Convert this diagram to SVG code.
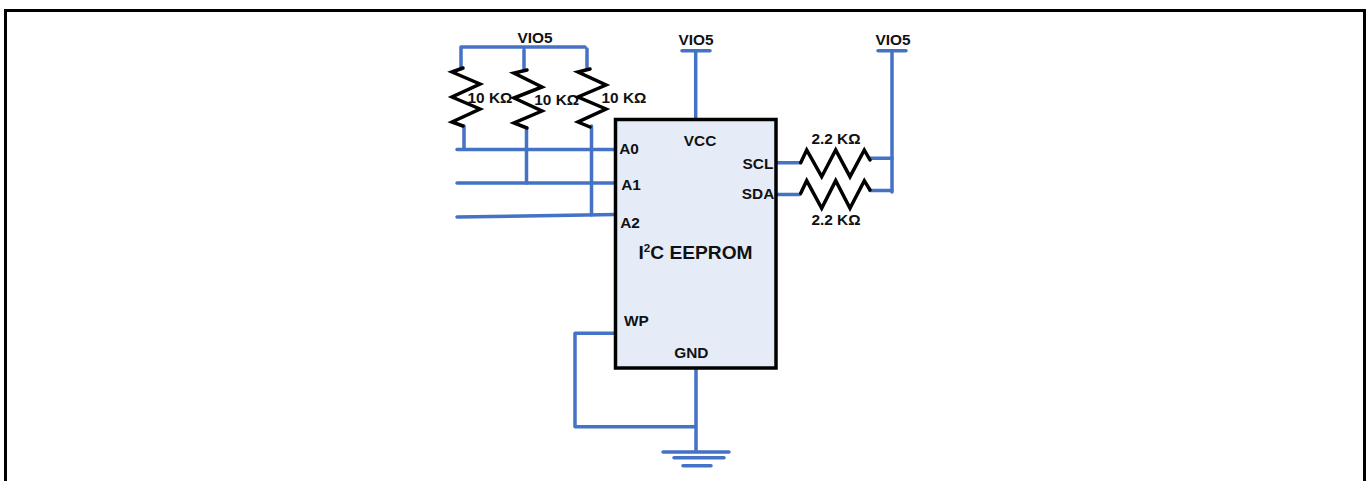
<svg xmlns="http://www.w3.org/2000/svg" width="1368" height="481" viewBox="0 0 1368 481">
<style>
text{font-family:"Liberation Sans",Arial,sans-serif;font-weight:700;fill:#111;font-size:15.400px;text-anchor:middle}
.w{fill:none;stroke:#4472c4;stroke-width:3.500;stroke-linejoin:round;stroke-linecap:round}
.r{fill:none;stroke:#000;stroke-width:3.500;stroke-linejoin:miter;stroke-linecap:round}
</style>
<rect width="1368" height="481" fill="#fff"/>
<path id="frame" d="M5.500 481V10.500H1364.500V481" fill="none" stroke="#000" stroke-width="3"/>
<g id="connectors">
<path class="w" d="M461 67V47H585M524 50V70M587 49V69"/>
<path class="w" d="M464 126V149M526.500 130V183M591.500 126V215"/>
<path class="w" d="M457 149.500H616M457 183H616M457 217L616 214.500"/>
<path class="w" d="M682 50.700H710M695.700 50.700V119M878 50.700H906M892 50.700V192"/>
<path class="w" d="M776 162.700H800M776 194.500H800M870 158.300H892M870 190.500H892"/>
<path class="w" d="M615 333.300H575V426.700H696M696 368V452M663 452H729M674 457.700H724M683 465.700H711"/>
</g>
<g id="r1"><path class="r" d="M463 68L452 72L480 84L452 97L480 109L452 122L463 126"/><text x="490" y="103">10 KΩ</text></g>
<g id="r2"><path class="r" d="M527 70L514 73L542 87L514 98L542 111L514 123L527 128"/><text x="556.700" y="105">10 KΩ</text></g>
<g id="r3"><path class="r" d="M590 69L578 72L606 85L578 97L606 109L578 122L590 127"/><text x="624" y="103">10 KΩ</text></g>
<g id="r4"><path class="r" d="M800.700 162.700L806.700 150L821.700 176.700L835.700 150L850 176.700L864.300 150L870 160"/><text x="836" y="144">2.2 KΩ</text></g>
<g id="r5"><path class="r" d="M800.700 193.300L806.700 180.700L821.700 208.300L835.700 180.700L850 208.300L864.300 180.700L870 190"/><text x="836" y="225">2.2 KΩ</text></g>
<g id="vio5a"><text x="535" y="43">VIO5</text></g>
<g id="vio5b"><text x="696" y="45">VIO5</text></g>
<g id="vio5c"><text x="893" y="45">VIO5</text></g>
<g id="eeprom">
<rect x="615.500" y="119.500" width="160.500" height="248.500" fill="#e6ecf7" stroke="#000" stroke-width="3.500"/>
<text x="629" y="154">A0</text>
<text x="631" y="190">A1</text>
<text x="630" y="227.500">A2</text>
<text x="636.500" y="326">WP</text>
<text x="700" y="146">VCC</text>
<text x="758" y="169">SCL</text>
<text x="758" y="199">SDA</text>
<text x="691.300" y="358">GND</text>
<text x="695.500" y="259" style="font-size:19.200px">I<tspan dy="-7" style="font-size:11.500px">2</tspan><tspan dy="7">C EEPROM</tspan></text>
</g>
</svg>
